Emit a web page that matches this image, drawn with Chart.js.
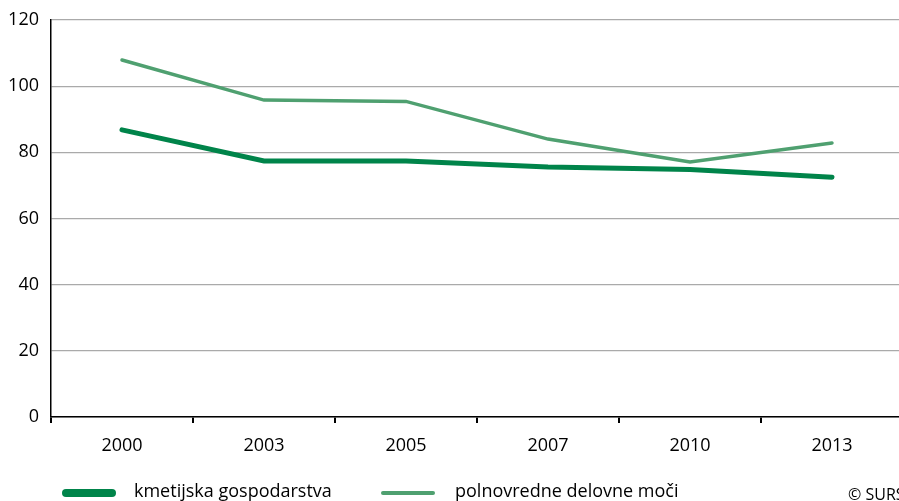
<!DOCTYPE html>
<html>
<head>
<meta charset="utf-8">
<script src="https://cdn.jsdelivr.net/npm/chart.js@4"></script>
<style>
  html, body { margin: 0; padding: 0; background: #fff; overflow: hidden; width: 899px; height: 501px; }
  #wrap { position: relative; width: 899px; height: 501px; overflow: hidden; }
  canvas { position: absolute; left: 0; top: 0; }
  .leg { position: absolute; font-family: "Open Sans", "Noto Sans", sans-serif; font-size: 18px; color: #000; white-space: nowrap; line-height: 24px; }
  .sw { position: absolute; border-radius: 4px; }
</style>
</head>
<body>
<div id="wrap">
  <canvas id="chart" width="905" height="501"></canvas>
  <div class="sw" style="left:62px; top:489px; width:54px; height:8px; background:#00844a;"></div>
  <div class="leg" style="left:134px; top:478px;">kmetijska gospodarstva</div>
  <div class="sw" style="left:381px; top:491px; width:54px; height:4px; background:#4fa070; border-radius:2px;"></div>
  <div class="leg" style="left:455px; top:478px;">polnovredne delovne moči</div>
  <div class="leg" style="left:848px; top:482px; font-size:16px;">© SURS</div>
</div>
<script>
const years = ['2000', '2003', '2005', '2007', '2010', '2013'];
const farms = [86.8, 77.4, 77.4, 75.6, 74.8, 72.5];
const workUnits = [107.9, 95.8, 95.4, 84.0, 77.1, 82.8];
const yTicks = [0, 20, 40, 60, 80, 100, 120];

const font = { family: '"Open Sans", "Noto Sans", sans-serif', size: 18 };

new Chart(document.getElementById('chart'), {
  type: 'line',
  data: {
    labels: years,
    datasets: [
      {
        label: 'kmetijska gospodarstva',
        data: farms,
        borderColor: '#00844a',
        borderWidth: 5,
        pointRadius: 0,
        tension: 0,
        borderCapStyle: 'round',
      },
      {
        label: 'polnovredne delovne moči',
        data: workUnits,
        borderColor: '#4fa070',
        borderWidth: 3.5,
        pointRadius: 0,
        tension: 0,
        borderCapStyle: 'round',
      },
    ],
  },
  options: {
    responsive: false,
    animation: false,
    layout: { padding: { top: 20, left: 0, right: 2, bottom: 0 } },
    plugins: { legend: { display: false }, tooltip: { enabled: false } },
    scales: {
      x: {
        offset: true,
        grid: { offset: true, drawOnChartArea: false, color: '#000', lineWidth: 2, tickLength: 6 },
        border: { display: true, color: '#000', width: 1.5 },
        ticks: { color: '#000', font: font, padding: 12, maxRotation: 0 },
        afterFit: scale => { scale.height = 84; },
      },
      y: {
        min: 0,
        max: 120,
        afterBuildTicks: scale => { scale.ticks = yTicks.map(v => ({ value: v })); },
        grid: { color: '#aaaaaa', lineWidth: 1.2, drawTicks: false },
        border: { display: true, color: '#000', width: 1.5 },
        ticks: { color: '#000', font: font, padding: 12 },
        afterFit: scale => { scale.width = 51; scale.paddingTop = 0; scale.paddingBottom = 0; },
      },
    },
  },
});
</script>
</body>
</html>
